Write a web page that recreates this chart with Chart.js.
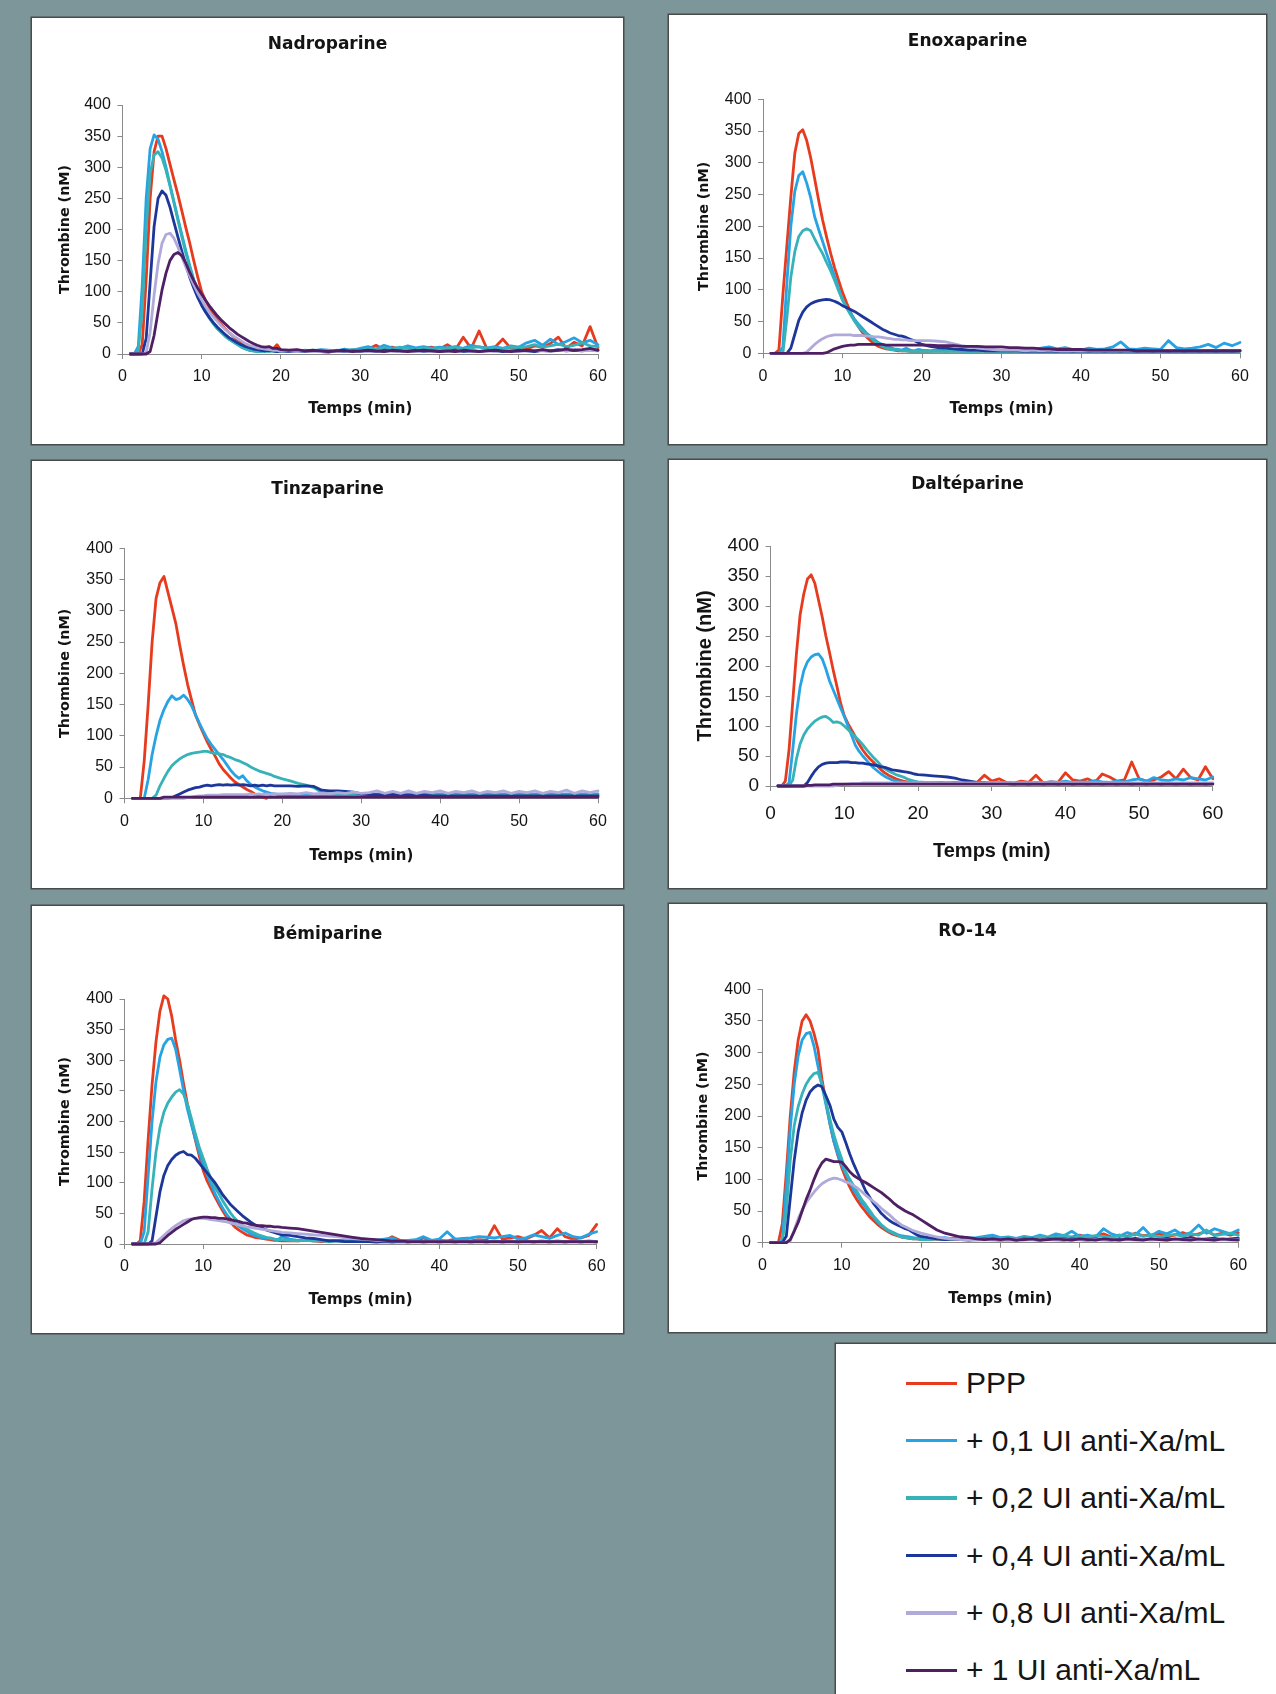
<!DOCTYPE html>
<html><head><meta charset="utf-8">
<script src="https://cdn.jsdelivr.net/npm/chart.js@4.4.1/dist/chart.umd.min.js"></script>
<style>
html,body{margin:0;padding:0;}
body{width:1276px;height:1694px;background:#7d9699;position:relative;overflow:hidden;font-family:'Liberation Sans',Arial,sans-serif;}
.panel{position:absolute;background:#fff;box-shadow:0 0 0 1.5px #4a4a4a;}
.panel canvas{position:absolute;left:0;top:0;}
#legend{position:absolute;left:836px;top:1344px;width:440px;height:350px;background:#fff;box-shadow:0 0 0 1.5px #4a4a4a;}
.lg-row{position:absolute;height:30px;line-height:30px;font-size:30px;color:#151515;white-space:nowrap;font-family:'Liberation Sans',Arial,sans-serif;}
.lg-line{position:absolute;height:3.5px;}
</style></head><body>
<div id="legend"></div>
<script>
// ---- time (min) ----
const T = [
1,1.5,2,2.5,3,3.5,4,4.5,5,5.5, 6,6.5,7,7.5,8,8.5,9,9.5,10,10.5,
11,11.5,12,12.5,13,13.5,14,14.5,15,15.5, 16,16.5,17,17.5,18,18.5,19,19.5,20,
21,22,23,24,25,26,27,28,29,30, 31,32,33,34,35,36,37,38,39,40,
41,42,43,44,45,46,47,48,49,50, 51,52,53,54,55,56,57,58,59,60];

const SERIES = ['PPP','+ 0,1 UI anti-Xa/mL','+ 0,2 UI anti-Xa/mL','+ 0,4 UI anti-Xa/mL','+ 0,8 UI anti-Xa/mL','+ 1 UI anti-Xa/mL'];
const COLORS = ['#E63B1E','#27A3E3','#36B2B8','#1D3699','#B0AADB','#4F1F63'];
const X_TICKS = [0,10,20,30,40,50,60];
const Y_TICKS = [0,50,100,150,200,250,300,350,400];

// ---- Nadroparine ----
const nadro_ppp = [
0,0,0,15,120,250,325,350,350,330, 305,280,256,230,203,178,150,124,100,86,
74,64,55,47,40,34,28,23,19,15, 12,10,8,7,6,6,8,15,6,
5,6,5,4,6,5,4,5,6,7, 8,14,7,11,8,12,7,9,11,8,
15,7,27,9,37,8,11,24,9,11, 8,13,11,17,27,9,19,13,44,10];
const nadro_01 = [
0,0,12,110,250,330,352,345,325,300, 272,245,218,192,166,142,120,100,84,70,
58,49,41,35,29,24,20,16,12,9, 6,5,4,5,4,6,5,4,6,
5,4,6,5,7,6,5,8,6,9, 12,8,14,10,9,13,10,12,9,11,
10,12,9,14,11,10,12,9,13,11, 18,22,14,24,15,20,26,18,22,15];
const nadro_02 = [
0,0,5,70,200,290,320,325,315,295, 270,243,215,188,162,139,117,98,82,68,
57,48,40,34,28,23,19,15,11,8, 6,5,4,4,5,4,5,4,5,
4,5,4,6,5,4,6,5,7,6, 9,7,10,8,11,9,8,10,9,8,
9,11,8,10,12,9,10,8,11,10, 12,15,11,13,16,12,14,18,13,12];
const nadro_04 = [
0,0,0,0,25,115,205,250,262,255, 236,212,188,165,143,123,106,91,78,67,
58,50,43,37,31,26,22,18,15,12, 10,8,7,6,5,6,5,4,5,
4,5,4,5,4,3,5,4,5,4, 5,4,6,5,4,5,6,4,5,4,
5,6,4,5,4,6,5,4,5,6, 5,4,6,5,7,5,6,5,7,6];
const nadro_08 = [
0,0,0,0,2,35,95,145,178,192, 194,186,172,156,140,125,111,98,87,76,
67,59,52,45,39,34,29,25,21,17, 14,12,10,9,8,7,6,6,5,
5,4,5,4,4,5,4,5,4,5, 4,5,4,5,4,5,4,5,4,5,
5,4,5,6,4,5,4,6,5,4, 5,6,5,4,6,5,7,5,6,5];
const nadro_1 = [
0,0,0,0,0,4,30,68,103,130, 150,160,163,158,146,131,118,106,96,86,
77,69,61,54,48,42,37,32,28,24, 20,17,14,12,11,12,9,9,7,
6,7,5,6,5,4,5,6,4,5, 6,5,4,6,5,4,5,6,5,4,
5,4,6,5,4,5,6,5,4,5, 6,5,7,5,6,8,6,7,9,6];

// ---- Enoxaparine ----
const enox_ppp = [
0,0,5,92,169,246,315,346,352,335, 308,275,241,210,183,158,135,115,96,80,
65,52,42,33,26,20,15,11,9,7, 6,5,4,4,4,3,3,3,3,
3,4,3,4,3,4,3,4,3,4, 3,4,3,4,3,4,3,4,3,4,
3,4,3,4,3,4,3,4,3,4, 3,4,3,4,3,4,3,4,3,4];
const enox_01 = [
0,0,0,10,110,200,255,280,286,268, 245,215,195,176,157,139,121,102,84,72,
63,54,46,39,32,27,22,17,14,11, 9,7,6,5,8,5,4,6,5,
4,5,8,5,4,3,4,5,4,3, 4,5,4,6,8,10,7,9,6,5,
8,6,7,10,18,7,6,8,7,6, 20,9,7,8,10,14,9,16,12,17];
const enox_02 = [
0,0,0,0,55,120,160,184,193,196, 193,180,168,157,143,130,115,99,84,72,
61,51,42,36,30,25,20,15,11,8, 6,6,5,4,4,3,3,3,3,
3,3,3,3,3,3,3,3,3,3, 3,3,3,3,3,3,3,3,3,3,
3,3,3,3,3,3,3,3,3,3, 3,3,3,3,3,3,3,3,3,3];
const enox_04 = [
0,0,0,0,0,8,30,52,65,73, 78,81,83,84,85,84,82,79,75,72,
69,66,62,58,54,50,46,42,38,35, 32,30,28,27,25,22,20,17,14,
11,9,8,7,6,5,5,4,4,4, 4,4,3,4,3,4,3,4,3,4,
3,4,3,4,3,4,3,4,3,4, 3,4,3,4,3,4,3,4,3,4];
const enox_08 = [
0,0,0,0,0,0,0,0,0,2, 8,14,19,23,26,28,29,29,29,29,
29,28,28,28,27,27,26,26,25,24, 23,22,22,21,21,20,20,20,20,
20,19,18,15,12,10,8,7,6,5, 5,5,4,5,4,5,4,4,4,4,
4,4,4,4,4,4,4,4,4,4, 4,4,4,4,4,4,4,4,4,4];
const enox_1 = [
0,0,0,0,0,0,0,0,0,0, 0,0,0,0,1,4,7,9,11,12,
13,13,14,14,14,14,14,14,14,13, 13,13,13,13,13,13,13,13,13,
13,12,12,12,11,11,11,10,10,10, 9,9,8,8,7,7,6,6,6,6,
5,5,5,5,5,5,4,4,4,4, 4,4,4,4,4,4,4,4,4,4];

// ---- Tinzaparine ----
const tinz_ppp = [
0,0,0,60,150,250,320,345,355,330, 305,280,245,212,182,157,133,118,104,90,
78,67,55,46,39,32,26,22,18,14, 11,7,4,2,0];
const tinz_01 = [
0,0,0,0,30,70,100,125,142,155, 164,158,160,165,158,148,134,120,107,95,
86,78,70,62,53,44,37,32,36,28, 22,18,15,12,10,8,7,6,6,
6,5,6,5,6,5,6,5,6,5, 6,7,6,7,6,7,6,7,6,7,
6,7,6,7,6,7,6,7,6,7, 6,7,6,7,6,7,6,7,6,7];
const tinz_02 = [
0,0,0,0,0,0,5,20,32,43, 52,58,63,67,70,72,73,74,75,75,
73,72,71,70,67,65,62,60,57,54, 50,47,44,42,40,38,35,33,31,
28,24,21,17,9,7,6,5,5,5, 5,5,5,5,5,5,5,5,5,5,
5,5,5,5,5,5,5,5,5,5, 5,5,5,5,5,5,5,5,5,5];
const tinz_04 = [
0,0,0,0,0,0,0,0,0,0, 1,4,7,10,13,15,17,18,20,21,
20,21,22,21,22,21,22,21,22,21, 20,21,20,21,20,21,20,20,20,
20,19,20,19,13,12,12,11,10,7, 6,6,5,6,5,5,4,5,4,4,
4,4,4,4,4,4,4,4,4,4, 4,4,4,4,4,4,4,4,4,4];
const tinz_08 = [
0,0,0,0,0,0,0,0,0,0, 0,0,0,0,1,2,3,4,4,5,
5,5,5,6,6,6,6,6,6,6, 7,6,7,6,7,6,7,7,7,
8,7,9,7,8,7,9,8,10,8, 9,12,8,11,8,12,8,11,9,12,
8,11,9,12,8,11,9,12,8,11, 9,12,8,11,9,13,8,12,9,12];
const tinz_1 = [
0,0,0,0,0,0,0,0,2,2, 2,2,2,2,2,2,2,2,2,2,
2,2,2,2,2,2,2,2,2,2, 2,2,2,2,2,2,2,2,2,
2,2,2,2,2,2,2,2,2,2, 2,2,2,2,2,2,2,2,2,2,
2,2,2,2,2,2,2,2,2,2, 2,2,2,2,2,2,2,2,2,2];

// ---- Daltéparine ----
const dalt_ppp = [
0,0,8,60,140,220,285,320,345,352, 338,310,282,250,222,193,166,138,117,104,
93,82,70,60,52,45,39,33,27,22, 18,15,12,10,8,7,6,6,5,
5,5,6,5,6,5,5,6,18,8, 12,6,5,8,6,18,5,7,6,22,
10,8,12,6,20,15,8,10,40,12, 8,10,15,24,12,28,14,10,32,12];
const dalt_01 = [
0,0,0,5,60,120,165,192,207,215, 219,220,212,195,175,160,145,130,116,100,
84,68,58,50,43,36,30,25,20,16, 13,10,8,7,6,5,5,4,4,
4,5,4,5,4,5,4,5,6,5, 6,5,4,6,5,6,5,7,6,8,
6,7,6,9,7,6,8,7,10,12, 8,14,10,9,12,10,14,12,10,15];
const dalt_02 = [
0,0,0,0,10,45,70,85,95,102, 108,112,115,116,112,106,107,105,100,94,
88,82,76,69,61,54,47,41,34,29, 25,22,19,17,15,12,10,8,7,
6,5,5,4,4,4,4,4,4,4, 4,4,4,4,4,4,4,4,4,4,
4,4,4,4,4,4,4,4,4,4, 4,4,4,4,4,4,4,4,4,4];
const dalt_04 = [
0,0,0,0,0,0,0,0,6,16, 25,32,36,38,39,39,39,40,40,40,
39,39,38,38,37,36,35,34,32,31, 29,27,26,25,24,23,22,20,19,
18,17,16,15,13,10,8,6,5,4, 4,4,3,4,3,4,3,4,3,4,
3,4,3,4,3,4,3,4,3,4, 3,4,3,4,3,4,3,4,3,4];
const dalt_08 = [
0,0,0,0,0,0,0,0,0,0, 0,0,0,0,0,0,1,2,3,3,
4,4,4,5,5,5,5,5,5,5, 5,5,5,5,5,5,5,5,5,
5,5,5,5,5,5,5,5,5,5, 5,5,5,5,5,5,5,5,5,5,
5,5,5,5,5,5,5,5,5,5, 5,5,5,5,5,5,5,5,5,5];
const dalt_1 = [
0,0,0,0,0,0,0,0,1,1, 2,2,2,2,2,3,3,3,3,3,
3,3,3,3,3,3,3,3,3,3, 3,3,3,3,3,3,3,3,3,
3,3,3,3,3,3,3,3,3,3, 3,3,3,3,3,3,3,3,3,3,
3,3,3,3,3,3,3,3,3,3, 3,3,3,3,3,3,3,3,3,3];

// ---- Bémiparine ----
const bemi_ppp = [
0,0,5,70,170,260,330,380,405,400, 372,333,300,262,228,198,170,144,120,103,
90,77,65,54,43,35,28,23,19,15, 13,11,10,9,8,7,6,6,5,
5,5,6,5,4,5,6,5,4,5, 5,6,5,12,6,5,4,10,5,6,
5,8,6,5,7,6,30,8,10,12, 8,14,22,10,25,12,8,10,14,32];
const bemi_01 = [
0,0,0,20,110,200,265,305,325,334, 336,318,285,251,220,195,172,150,130,113,
98,82,70,58,48,40,34,29,25,21, 17,14,12,10,9,10,8,7,12,
8,6,7,5,6,5,6,5,6,5, 5,6,8,10,5,6,7,12,6,8,
20,8,9,10,12,11,10,12,14,8, 10,15,12,9,14,18,12,10,16,20];
const bemi_02 = [
0,0,0,0,20,90,150,190,215,230, 240,248,252,245,228,205,180,158,140,122,
106,92,82,70,60,50,42,35,30,25, 21,18,15,13,11,9,8,7,7,
6,5,6,5,5,4,5,4,5,4, 5,4,5,4,5,4,5,4,5,4,
5,4,5,4,5,4,5,4,5,4, 5,4,5,4,5,4,5,4,5,4];
const bemi_04 = [
0,0,0,0,0,5,45,85,112,128, 138,145,149,151,146,145,140,132,124,116,
108,100,90,80,72,64,58,52,46,41, 36,32,29,26,23,21,19,17,15,
14,12,10,9,7,5,5,4,4,4, 4,3,4,3,4,3,4,3,4,3,
4,3,4,3,4,3,4,3,4,3, 4,3,4,3,4,3,4,3,4,3];
const bemi_08 = [
0,0,0,0,0,0,2,8,14,20, 25,30,34,38,40,41,42,42,42,41,
40,39,38,37,36,34,33,31,30,28, 27,26,25,24,23,22,21,20,19,
18,17,16,15,14,13,12,10,9,8, 7,6,5,5,5,4,4,4,4,4,
4,4,4,4,4,4,4,4,4,4, 4,4,4,4,4,4,4,4,4,4];
const bemi_1 = [
0,0,0,0,0,0,0,2,8,14, 19,24,28,32,36,40,42,43,44,44,
43,43,42,42,41,40,38,37,35,34, 32,31,30,30,29,29,28,28,27,
26,25,23,21,19,17,15,13,11,9, 8,7,6,5,5,4,4,4,4,4,
4,4,4,4,4,4,4,4,4,4, 4,4,4,4,4,4,4,4,4,4];

// ---- RO-14 ----
const ro_ppp = [
0,0,0,30,110,200,270,320,350,360, 350,330,305,258,222,188,160,138,118,102,
88,76,66,57,49,41,35,29,24,20, 16,13,11,9,8,7,6,6,5,
5,6,5,6,5,7,5,6,8,6, 7,5,8,6,9,7,10,8,9,12,
8,10,14,9,12,10,15,11,12,14, 10,12,16,11,14,18,12,15,12,16];
const ro_01 = [
0,0,0,5,90,180,250,295,320,330, 332,310,278,248,218,188,160,140,122,109,
96,83,74,64,56,48,40,33,27,22, 19,16,13,11,10,9,8,7,7,
6,7,8,6,9,7,8,10,12,8, 9,7,10,8,12,9,14,11,18,10,
12,9,22,14,10,16,12,24,11,18, 14,20,12,16,28,15,22,18,14,20];
const ro_02 = [
0,0,0,0,50,130,185,215,235,250, 260,267,269,250,222,195,170,150,132,112,
100,90,79,68,60,51,42,35,28,23, 18,15,12,9,8,7,6,6,5,
5,6,5,6,7,5,6,8,6,7, 8,6,9,7,10,8,9,12,8,10,
9,11,10,8,12,9,14,10,12,9, 11,13,10,14,12,20,11,13,15,12];
const ro_04 = [
0,0,0,0,10,70,130,175,205,225, 238,245,249,246,232,217,195,182,175,158,
140,124,110,96,82,72,62,54,46,40, 35,31,28,25,22,20,16,12,10,
8,6,5,6,5,4,5,6,5,4, 5,4,6,5,4,6,5,4,6,5,
4,6,5,4,6,5,7,5,6,5, 7,5,6,8,5,6,7,5,6,7];
const ro_08 = [
0,0,0,0,0,3,20,38,52,63, 72,80,87,93,97,100,102,101,99,96,
94,90,86,81,75,70,65,60,54,49, 44,38,33,28,25,22,19,17,15,
12,9,7,6,5,5,4,5,4,5, 4,5,4,5,4,5,4,5,4,5,
4,5,4,5,4,5,4,5,4,5, 4,5,4,5,4,5,4,5,4,5];
const ro_1 = [
0,0,0,0,0,5,18,32,50,68, 83,100,115,126,132,130,128,128,127,120,
112,106,102,98,95,91,87,83,79,74, 69,63,58,54,50,47,44,40,36,
28,20,15,12,9,8,6,5,6,5, 6,4,5,6,4,5,6,5,4,6,
5,4,6,5,4,6,5,4,6,5, 4,6,5,4,6,5,4,6,5,4];

// ---- layout of the six panels (absolute page pixels) ----
const PANELS = [
 {title:'Nadroparine', series:[nadro_ppp,nadro_01,nadro_02,nadro_04,nadro_08,nadro_1],
  box:[32,18,591,426], plot:[122.4,105,598,354], titleY:45, yTitleX:65, xTitleY:409, xTickY:376.7, big:false},
 {title:'Enoxaparine', series:[enox_ppp,enox_01,enox_02,enox_04,enox_08,enox_1],
  box:[669,15,597,429], plot:[763,99.3,1240,353.3], titleY:41.7, yTitleX:704, xTitleY:409.3, xTickY:376.7, big:false},
 {title:'Tinzaparine', series:[tinz_ppp,tinz_01,tinz_02,tinz_04,tinz_08,tinz_1],
  box:[32,461,591,427], plot:[124.5,548.3,598,798.3], titleY:490, yTitleX:65, xTitleY:856, xTickY:821.7, big:false},
 {title:'Daltéparine', series:[dalt_ppp,dalt_01,dalt_02,dalt_04,dalt_08,dalt_1],
  box:[669,460,597,428], plot:[770.6,546,1212.8,786], titleY:485, yTitleX:705, xTitleY:851.7, xTickY:814, big:true},
 {title:'Bémiparine', series:[bemi_ppp,bemi_01,bemi_02,bemi_04,bemi_08,bemi_1],
  box:[32,906,591,427], plot:[124.5,999,596.7,1244], titleY:935, yTitleX:65, xTitleY:1300, xTickY:1266.7, big:false},
 {title:'RO-14', series:[ro_ppp,ro_01,ro_02,ro_04,ro_08,ro_1],
  box:[669,904,597,428], plot:[762.5,989.3,1238.3,1242.7], titleY:931.7, yTitleX:703, xTitleY:1299.3, xTickY:1266, big:false}
];

const SANS = "'Liberation Sans', Arial, sans-serif";
const DEJAVU = "'DejaVu Sans', sans-serif";
const AXIS_COLOR = '#8a8a8a';
const TEXT_COLOR = '#141414';

PANELS.forEach(p => {
  const [bx,by,bw,bh] = p.box;
  const [pl,pt,pr,pb] = p.plot;
  const div = document.createElement('div');
  div.className = 'panel';
  Object.assign(div.style,{left:bx+'px',top:by+'px',width:bw+'px',height:bh+'px'});
  const cv = document.createElement('canvas');
  cv.width = bw; cv.height = bh;
  cv.style.width = bw+'px'; cv.style.height = bh+'px';
  div.appendChild(cv);
  document.body.appendChild(div);

  const yW = pl - bx, xH = by + bh - pb, padR = bx + bw - pr, titleH = pt - by;
  const titleSize = 17;
  const tTop = (p.titleY - by) - titleSize/2;
  const tBot = titleH - tTop - titleSize;
  const tickSize = p.big ? 19 : 16;
  const xTitleFont = p.big ? {family:SANS, weight:'bold', size:20, lineHeight:1.2} : {family:DEJAVU, weight:'bold', size:15, lineHeight:1.2};
  const yTitleFont = p.big ? {family:SANS, weight:'bold', size:20, lineHeight:1.2} : {family:DEJAVU, weight:'bold', size:14.3, lineHeight:1.2};
  const yPad = (p.yTitleX - bx) - yTitleFont.size*1.2/2;
  const xPad = (by + bh - p.xTitleY) - xTitleFont.size*1.2/2;
  const xTickPad = (p.xTickY - pb) - 5 - tickSize*1.2/2;

  const datasets = p.series.map((vals,i) => ({
    label: SERIES[i],
    data: vals.map((v,j) => ({x:T[j], y:v})),
    borderColor: COLORS[i], backgroundColor: COLORS[i],
    borderWidth: 2.8, pointRadius: 0, tension: 0, fill: false,
    borderJoinStyle: 'round', borderCapStyle: 'round',
    clip: false,
    order: p.series.length - i
  }));

  new Chart(cv, {
    type: 'line',
    data: {datasets},
    options: {
      responsive: false, animation: false, events: [],
      layout: {padding: 0},
      plugins: {
        legend: {display: false}, tooltip: {enabled: false},
        title: {display: true, text: p.title, color: TEXT_COLOR,
          font: {family: DEJAVU, weight: 'bold', size: titleSize, lineHeight: 1},
          padding: {top: tTop, bottom: tBot}}
      },
      scales: {
        x: {type: 'linear', position: 'bottom', min: X_TICKS[0], max: X_TICKS[X_TICKS.length-1],
          afterBuildTicks: s => { s.ticks = X_TICKS.map(v => ({value: v})); },
          ticks: {color: TEXT_COLOR, font: {family: SANS, size: tickSize, lineHeight: 1.2}, padding: xTickPad, maxRotation: 0, autoSkip: false},
          grid: {drawOnChartArea: false, drawTicks: true, tickLength: 5, color: AXIS_COLOR, lineWidth: 1},
          border: {display: true, color: AXIS_COLOR, width: 1},
          title: {display: true, text: 'Temps (min)', color: TEXT_COLOR, font: xTitleFont, padding: {top: 0, bottom: xPad}},
          afterFit: s => { s.height = xH; }
        },
        y: {type: 'linear', position: 'left', min: Y_TICKS[0], max: Y_TICKS[Y_TICKS.length-1],
          afterBuildTicks: s => { s.ticks = Y_TICKS.map(v => ({value: v})); },
          ticks: {color: TEXT_COLOR, font: {family: SANS, size: tickSize, lineHeight: 1.2}, padding: 6.5, autoSkip: false},
          grid: {drawOnChartArea: false, drawTicks: true, tickLength: 5, color: AXIS_COLOR, lineWidth: 1},
          border: {display: true, color: AXIS_COLOR, width: 1},
          title: {display: true, text: 'Thrombine (nM)', color: TEXT_COLOR, font: yTitleFont, padding: {top: yPad, bottom: 0}},
          afterFit: s => { s.width = yW; }
        },
        r: {type: 'linear', position: 'right', display: true,
          ticks: {display: false}, grid: {display: false, drawTicks: false},
          border: {display: false}, title: {display: false},
          afterFit: s => { s.width = padR; }
        }
      }
    }
  });
});

// ---- legend (built from SERIES / COLORS) ----
const legend = document.getElementById('legend');
SERIES.forEach((name, i) => {
  const cy = 39.3 + i*57.4;
  const ln = document.createElement('div');
  ln.className = 'lg-line';
  Object.assign(ln.style, {left:'70px', width:'51px', top:(cy-1.75)+'px', background:COLORS[i]});
  legend.appendChild(ln);
  const tx = document.createElement('div');
  tx.className = 'lg-row';
  tx.textContent = name;
  Object.assign(tx.style, {left:'130px', top:(cy-15)+'px'});
  legend.appendChild(tx);
});
</script></body></html>
